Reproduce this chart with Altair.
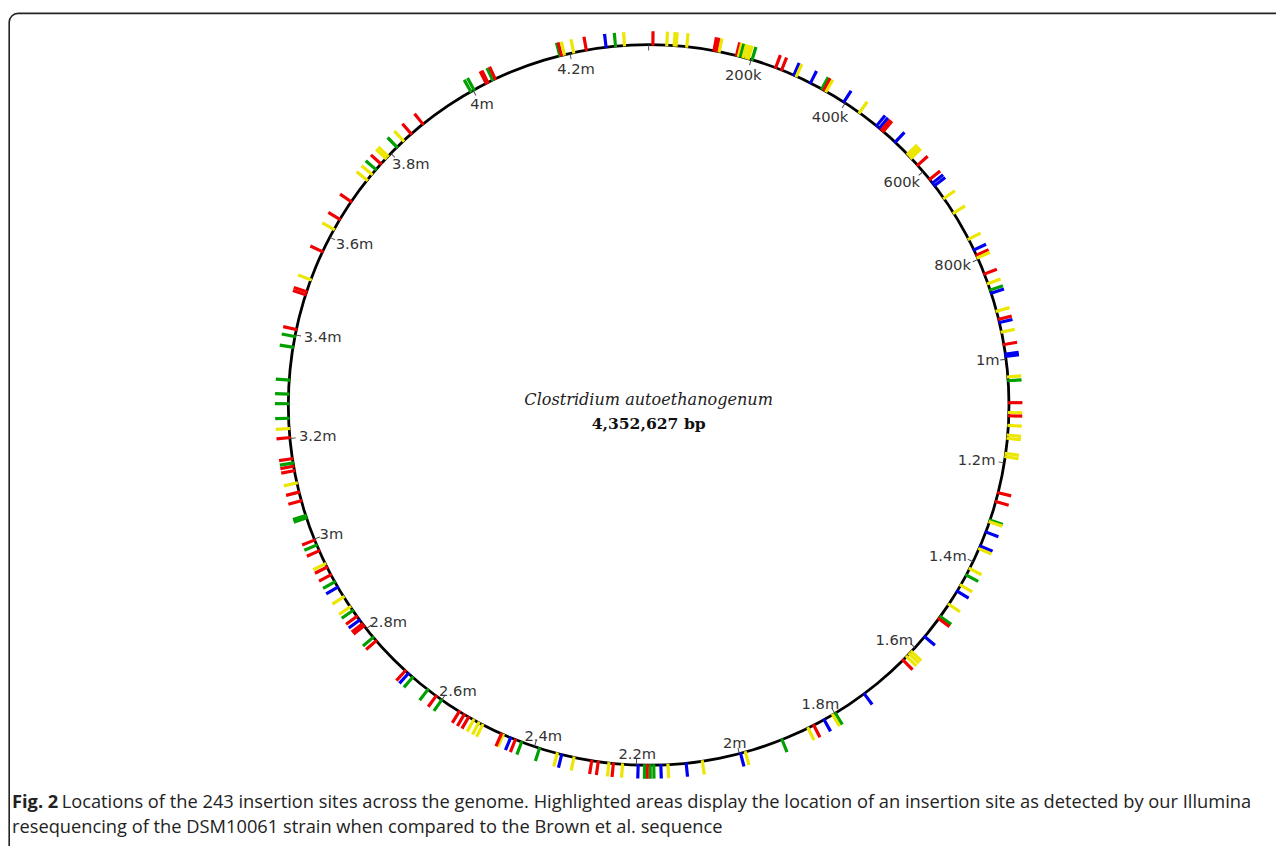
import math
import altair as alt
import pandas as pd

GENOME_KB = 4352.627

# insertion site positions (kb), grouped by colour
red_kb = [8.1, 126.3, 131.3, 170.6, 249.5, 261.8, 351.7, 487.1, 491.1, 583.9, 619.6, 791.3, 830.6,
          922.0, 971.4, 1084.0, 1109.0, 1258.5, 1276.3, 1528.1, 1633.3, 1846.6, 2179.1, 2244.3,
          2273.6, 2286.2, 2438.9, 2467.9, 2538.8, 2548.5, 2559.6, 2613.3, 2689.7, 2770.2, 2807.2,
          2812.3, 2829.9, 2924.5, 2940.9, 2975.9, 2998.4, 3078.2, 3095.2, 3137.4, 3146.0, 3160.7,
          3201.5, 3410.6, 3479.9, 3485.8, 3568.6, 3639.3, 3679.8, 3772.2, 3854.3, 3883.6, 4028.6,
          4032.2, 4047.9, 4183.1, 4232.1]
yellow_kb = [34.9, 49.1, 53.0, 73.3, 136.6, 174.5, 183.8, 189.7, 194.3, 292.6, 356.9, 432.8, 555.2,
             560.5, 565.4, 665.3, 699.1, 757.2, 796.8, 850.2, 905.7, 947.2, 1034.1, 1102.8, 1127.6,
             1146.3, 1152.5, 1181.9, 1188.0, 1316.9, 1372.5, 1414.9, 1451.1, 1494.4, 1610.4, 1616.5,
             1623.5, 1804.9, 1858.9, 1988.1, 2072.7, 2139.2, 2226.6, 2252.9, 2321.0, 2354.1, 2464.1,
             2507.9, 2516.3, 2527.6, 2852.4, 2875.2, 2948.0, 3113.4, 3219.1, 3510.3, 3617.0, 3731.3,
             3745.7, 3786.4, 3792.5, 3834.3, 4189.1, 4207.5, 4306.1]
green_kb = [178.5, 201.7, 347.2, 863.4, 1041.6, 1313.6, 1428.6, 1522.8, 1799.0, 1913.6, 2166.5,
            2173.4, 2184.2, 2389.6, 2426.0, 2600.2, 2633.2, 2671.0, 2779.0, 2843.7, 2908.9, 2987.8,
            3043.6, 3048.4, 3152.3, 3238.9, 3266.8, 3285.4, 3312.4, 3375.9, 3396.7, 3757.7, 3816.9,
            3995.1, 4002.1, 4042.6, 4180.0, 4288.8]
blue_kb = [287.2, 322.7, 396.5, 474.4, 481.4, 522.1, 628.5, 634.8, 780.1, 869.8, 928.3, 990.3, 994.6,
           1337.7, 1366.9, 1464.4, 1571.9, 1732.2, 1824.1, 1997.7, 2104.1, 2152.9, 2196.5, 2345.2,
           2448.7, 2682.1, 2821.4, 2897.3, 4270.6]

scale_kb = [0, 200, 400, 600, 800, 1000, 1200, 1400, 1600, 1800, 2000, 2200, 2400, 2600, 2800,
            3000, 3200, 3400, 3600, 3800, 4000, 4200]
scale_labels = ["", "200k", "400k", "600k", "800k", "1m", "1.2m", "1.4m", "1.6m", "1.8m", "2m",
                "2.2m", "2.4m", "2.6m", "2.8m", "3m", "3.2m", "3.4m", "3.6m", "3.8m", "4m", "4.2m"]

organism = "Clostridium autoethanogenum"
genome_size = "4,352,627 bp"
fig_label = "Fig. 2"
caption_1 = ("Locations of the 243 insertion sites across the genome. Highlighted areas display the "
             "location of an insertion site as detected by our Illumina")
caption_2 = "resequencing of the DSM10061 strain when compared to the Brown et al. sequence"

site_types = ["red", "yellow", "green", "blue"]
site_colors = ["#f00000", "#ece600", "#00a000", "#0000f0"]

sites = pd.DataFrame({
    "kb": red_kb + yellow_kb + green_kb + blue_kb,
    "type": (["red"] * len(red_kb) + ["yellow"] * len(yellow_kb)
             + ["green"] * len(green_kb) + ["blue"] * len(blue_kb)),
}).sort_values("kb").reset_index(drop=True)

scale_df = pd.DataFrame({"kb": scale_kb, "label": scale_labels})

W, H = 1276, 838
CX, CY = 644.7, 396.8
R = 362.6

theta_scale = alt.Scale(domain=[0, GENOME_KB], range=[0, 2 * math.pi])
radius_scale = alt.Scale(type="linear", domain=[0, 1000], range=[0, 1000], zero=True)
cx = alt.value(CX)
cy = alt.value(CY)

border = alt.Chart(pd.DataFrame({"k": [0]})).mark_rect(
    fill="transparent", stroke="#222222", strokeWidth=1.6, cornerRadius=9
).encode(x=alt.value(1.2), x2=alt.value(1320), y=alt.value(2.8), y2=alt.value(900))

ring = alt.Chart(pd.DataFrame({"a": [0.0], "b": [GENOME_KB]})).mark_arc(
    radius=R - 1.4, radius2=R + 1.4, color="black"
).encode(
    theta=alt.Theta("a:Q", scale=theta_scale, stack=False),
    theta2="b:Q", x=cx, y=cy,
)

ticks = alt.Chart(sites).transform_calculate(
    t0="datum.kb - 3.0", t1="datum.kb + 3.0"
).mark_arc(radius=R - 1, radius2=R + 13.5).encode(
    theta=alt.Theta("t0:Q", scale=theta_scale, stack=False),
    theta2="t1:Q",
    color=alt.Color("type:N", scale=alt.Scale(domain=site_types, range=site_colors), legend=None),
    x=cx, y=cy,
)

scale_ticks = alt.Chart(scale_df).transform_calculate(
    t0="datum.kb - 0.9", t1="datum.kb + 0.9"
).mark_arc(radius=R - 6, radius2=R, color="#444444").encode(
    theta=alt.Theta("t0:Q", scale=theta_scale, stack=False),
    theta2="t1:Q", x=cx, y=cy,
)

# label anchor: inside the ring, offset horizontally by the label's half-width and vertically
# by its half-height (elliptical offset), then expressed back in polar form
G = GENOME_KB
scale_text = alt.Chart(scale_df).transform_filter("datum.label != ''").transform_calculate(
    th="datum.kb / %f * 2 * PI" % G,
).transform_calculate(
    A="length(datum.label) * 4.8 + 9",
    B="cos(datum.th) > 0 ? 17.5 : 10",
).transform_calculate(
    px="sin(datum.th) * (%f - datum.A)" % R,
    py="cos(datum.th) * (%f - datum.B)" % R,
).transform_calculate(
    r="sqrt(datum.px * datum.px + datum.py * datum.py)",
    ang="atan2(datum.px, datum.py)",
).transform_calculate(
    lkb="(datum.ang < 0 ? datum.ang + 2 * PI : datum.ang) / (2 * PI) * %f" % G,
).mark_text(font="DejaVu Sans", fontSize=14.8, color="#333333", align="center", baseline="middle").encode(
    theta=alt.Theta("lkb:Q", scale=theta_scale, stack=False),
    radius=alt.Radius("r:Q", scale=radius_scale),
    text="label:N", x=cx, y=cy,
)

center1 = alt.Chart(pd.DataFrame({"t": [organism]})).mark_text(
    font="DejaVu Serif", fontStyle="italic", fontSize=16.2, color="#222222",
    align="center", baseline="middle"
).encode(text="t:N", x=alt.value(CX), y=alt.value(392))

center2 = alt.Chart(pd.DataFrame({"t": [genome_size]})).mark_text(
    font="DejaVu Serif", fontWeight="bold", fontSize=15.7, color="#111111",
    align="center", baseline="middle"
).encode(text="t:N", x=alt.value(CX), y=alt.value(416))

cap_a = alt.Chart(pd.DataFrame({"t": [fig_label]})).mark_text(
    font="Open Sans", fontWeight="bold", fontSize=18.4, color="#222222", align="left", baseline="alphabetic"
).encode(text="t:N", x=alt.value(4), y=alt.value(802))

cap_b = alt.Chart(pd.DataFrame({"t": [caption_1]})).mark_text(
    font="Open Sans", fontSize=18.4, color="#222222", align="left", baseline="alphabetic"
).encode(text="t:N", x=alt.value(54), y=alt.value(802))

cap_c = alt.Chart(pd.DataFrame({"t": [caption_2]})).mark_text(
    font="Open Sans", fontSize=18.4, color="#222222", align="left", baseline="alphabetic"
).encode(text="t:N", x=alt.value(4), y=alt.value(828))

chart = alt.layer(
    border, ring, ticks, scale_ticks, scale_text, center1, center2, cap_a, cap_b, cap_c
).properties(
    width=W, height=H, padding=0, autosize=alt.AutoSizeParams(type="none")
).configure_view(strokeWidth=0)

chart.save("out.html", embed_options={"renderer": "svg", "actions": False})
